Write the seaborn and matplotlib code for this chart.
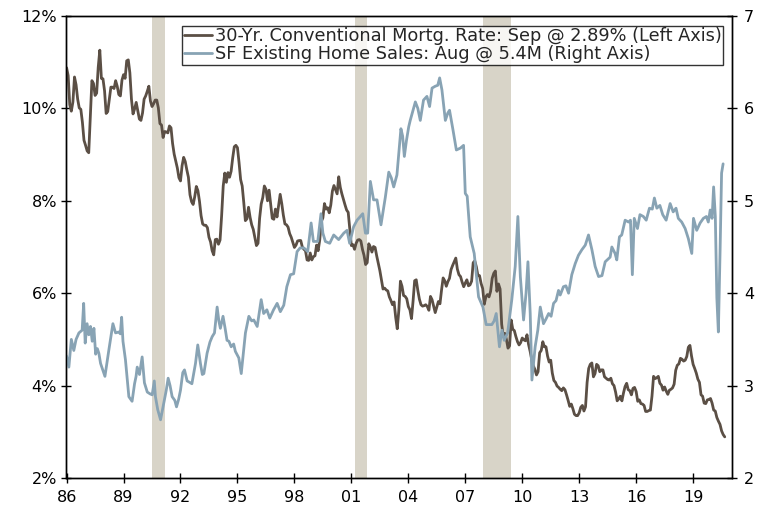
import numpy as np
import pandas as pd
import seaborn as sns
import matplotlib.pyplot as plt

# 30-yr conventional mortgage rate, monthly from Jan 1986 to Sep 2020 (%)
mortgage_rate = [
    10.88, 10.71, 10.08, 9.94, 10.14, 10.68, 10.51, 10.20, 10.01, 9.98, 9.70, 9.31,
    9.20, 9.08, 9.04, 9.83, 10.60, 10.54, 10.28, 10.33, 10.89, 11.26, 10.65, 10.64,
    10.38, 9.89, 9.93, 10.20, 10.46, 10.46, 10.43, 10.60, 10.48, 10.30, 10.27, 10.61,
    10.73, 10.65, 11.03, 11.05, 10.77, 10.20, 9.88, 9.99, 10.13, 9.95, 9.77, 9.74,
    9.90, 10.20, 10.27, 10.37, 10.48, 10.16, 10.04, 10.10, 10.18, 10.18, 10.01, 9.67,
    9.64, 9.37, 9.50, 9.49, 9.47, 9.62, 9.58, 9.24, 9.01, 8.86, 8.71, 8.50,
    8.43, 8.76, 8.94, 8.85, 8.67, 8.51, 8.13, 7.98, 7.92, 8.09, 8.31, 8.22,
    7.99, 7.68, 7.50, 7.47, 7.47, 7.42, 7.21, 7.11, 6.92, 6.83, 7.16, 7.17,
    7.06, 7.15, 7.68, 8.32, 8.60, 8.40, 8.61, 8.51, 8.64, 8.93, 9.17, 9.20,
    9.15, 8.83, 8.46, 8.32, 7.96, 7.57, 7.61, 7.86, 7.64, 7.48, 7.38, 7.20,
    7.03, 7.08, 7.62, 7.93, 8.07, 8.32, 8.25, 8.00, 8.23, 7.92, 7.62, 7.60,
    7.82, 7.65, 7.90, 8.14, 7.94, 7.69, 7.50, 7.48, 7.43, 7.29, 7.21, 7.10,
    6.99, 7.04, 7.13, 7.14, 7.14, 7.00, 6.95, 6.92, 6.72, 6.71, 6.87, 6.72,
    6.79, 6.81, 7.04, 6.92, 7.15, 7.55, 7.63, 7.94, 7.82, 7.85, 7.74, 7.91,
    8.21, 8.33, 8.24, 8.15, 8.52, 8.29, 8.15, 8.03, 7.91, 7.80, 7.75, 7.38,
    7.03, 7.05, 6.95, 7.08, 7.15, 7.16, 7.13, 6.95, 6.82, 6.62, 6.66, 7.07,
    7.00, 6.89, 7.01, 6.99, 6.81, 6.65, 6.49, 6.29, 6.09, 6.11, 6.07, 6.05,
    5.92, 5.84, 5.75, 5.81, 5.48, 5.23, 5.63, 6.26, 6.15, 5.95, 5.93, 5.88,
    5.71, 5.64, 5.45, 5.83, 6.27, 6.29, 6.06, 5.87, 5.75, 5.72, 5.73, 5.75,
    5.71, 5.63, 5.93, 5.86, 5.72, 5.58, 5.70, 5.82, 5.77, 6.07, 6.33, 6.27,
    6.15, 6.25, 6.32, 6.51, 6.60, 6.68, 6.76, 6.52, 6.40, 6.36, 6.24, 6.14,
    6.22, 6.29, 6.16, 6.18, 6.26, 6.66, 6.70, 6.57, 6.38, 6.38, 6.21, 6.10,
    5.76, 5.92, 5.97, 5.92, 6.04, 6.32, 6.43, 6.48, 6.04, 6.20, 6.09, 5.33,
    5.06, 5.13, 5.00, 4.81, 4.86, 5.42, 5.22, 5.19, 5.06, 4.95, 4.88, 4.93,
    5.03, 4.99, 4.97, 5.10, 4.89, 4.74, 4.56, 4.43, 4.35, 4.23, 4.30, 4.71,
    4.76, 4.95, 4.84, 4.84, 4.64, 4.51, 4.55, 4.27, 4.11, 4.07, 3.99, 3.96,
    3.92, 3.89, 3.95, 3.91, 3.80, 3.68, 3.55, 3.60, 3.50, 3.38, 3.35, 3.35,
    3.41, 3.53, 3.57, 3.45, 3.54, 4.07, 4.37, 4.46, 4.49, 4.19, 4.26, 4.46,
    4.43, 4.30, 4.34, 4.34, 4.19, 4.16, 4.13, 4.12, 4.16, 4.04, 4.00, 3.86,
    3.67, 3.71, 3.77, 3.67, 3.84, 3.98, 4.05, 3.91, 3.89, 3.80, 3.94, 3.96,
    3.87, 3.66, 3.69, 3.61, 3.60, 3.57, 3.44, 3.44, 3.46, 3.47, 3.77, 4.20,
    4.15, 4.17, 4.20, 4.05, 4.01, 3.90, 3.97, 3.88, 3.81, 3.90, 3.92, 3.95,
    4.03, 4.33, 4.44, 4.47, 4.59, 4.57, 4.53, 4.55, 4.63, 4.83, 4.87, 4.64,
    4.46, 4.37, 4.27, 4.14, 4.07, 3.80, 3.77, 3.62, 3.61, 3.69, 3.70, 3.72,
    3.62, 3.47, 3.45, 3.31, 3.23, 3.16, 3.02, 2.94, 2.89,
]

# single-family existing home sales (millions, SAAR)
sales_year = [
    1986.00, 1986.12, 1986.25, 1986.38, 1986.50, 1986.65, 1986.82, 1986.90, 1986.98,
    1987.08, 1987.17, 1987.26, 1987.35, 1987.44, 1987.53, 1987.62, 1987.70, 1987.79,
    1987.92, 1988.02, 1988.23, 1988.44, 1988.58, 1988.75, 1988.83, 1988.90, 1988.97,
    1989.10, 1989.28, 1989.45, 1989.58, 1989.66, 1989.72, 1989.84, 1989.98, 1990.10,
    1990.25, 1990.40, 1990.51, 1990.62, 1990.68, 1990.80, 1990.95, 1991.12, 1991.25,
    1991.35, 1991.45, 1991.56, 1991.70, 1991.79, 1991.90, 1992.00, 1992.12, 1992.21,
    1992.35, 1992.44, 1992.60, 1992.79, 1992.91, 1993.05, 1993.15, 1993.23, 1993.40,
    1993.55, 1993.67, 1993.79, 1993.93, 1994.02, 1994.10, 1994.24, 1994.35, 1994.45,
    1994.55, 1994.67, 1994.80, 1994.89, 1995.07, 1995.20, 1995.42, 1995.60, 1995.75,
    1995.86, 1996.04, 1996.25, 1996.38, 1996.55, 1996.70, 1996.90, 1997.09, 1997.26,
    1997.44, 1997.60, 1997.79, 1997.96, 1998.14, 1998.30, 1998.50, 1998.70, 1998.88,
    1999.00, 1999.23, 1999.40, 1999.50, 1999.63, 1999.86, 2000.07, 2000.33, 2000.60,
    2000.77, 2000.91, 2001.12, 2001.30, 2001.47, 2001.60, 2001.74, 2001.86, 2002.00,
    2002.17, 2002.35, 2002.56, 2002.79, 2002.97, 2003.10, 2003.23, 2003.40, 2003.61,
    2003.70, 2003.79, 2003.90, 2004.02, 2004.10, 2004.25, 2004.37, 2004.50, 2004.63,
    2004.80, 2004.98, 2005.12, 2005.25, 2005.42, 2005.55, 2005.65, 2005.77, 2005.95,
    2006.08, 2006.17, 2006.35, 2006.53, 2006.74, 2006.91, 2007.00, 2007.10, 2007.26,
    2007.47, 2007.70, 2007.93, 2008.10, 2008.40, 2008.52, 2008.63, 2008.80, 2008.93,
    2009.05, 2009.23, 2009.45, 2009.63, 2009.77, 2009.90, 2010.07, 2010.20, 2010.30,
    2010.42, 2010.51, 2010.68, 2010.82, 2010.95, 2011.12, 2011.25, 2011.39, 2011.52,
    2011.65, 2011.78, 2011.91, 2012.00, 2012.17, 2012.30, 2012.44, 2012.61, 2012.79,
    2012.96, 2013.14, 2013.32, 2013.49, 2013.67, 2013.84, 2014.02, 2014.20, 2014.37,
    2014.63, 2014.72, 2014.89, 2014.98, 2015.12, 2015.24, 2015.42, 2015.60, 2015.70,
    2015.80, 2015.90, 2016.07, 2016.20, 2016.38, 2016.53, 2016.70, 2016.85, 2016.96,
    2017.09, 2017.25, 2017.40, 2017.58, 2017.79, 2017.95, 2018.10, 2018.22, 2018.40,
    2018.58, 2018.75, 2018.93, 2019.02, 2019.19, 2019.37, 2019.54, 2019.70, 2019.80,
    2019.90, 2020.00, 2020.08, 2020.17, 2020.25, 2020.33, 2020.42, 2020.50, 2020.58,
]
sales_value = [
    3.32, 3.20, 3.50, 3.38, 3.50, 3.57, 3.60, 3.89, 3.46,
    3.67, 3.55, 3.64, 3.48, 3.62, 3.34, 3.40, 3.35, 3.24,
    3.16, 3.10, 3.39, 3.67, 3.57, 3.58, 3.56, 3.74, 3.48,
    3.28, 2.88, 2.83, 3.02, 3.10, 3.20, 3.12, 3.31, 3.03,
    2.93, 2.91, 2.90, 3.05, 2.88, 2.74, 2.63, 2.81, 2.95,
    3.08, 3.00, 2.88, 2.84, 2.77, 2.85, 2.95, 3.14, 3.17,
    3.05, 3.04, 3.02, 3.24, 3.44, 3.24, 3.12, 3.13, 3.35,
    3.47, 3.53, 3.57, 3.85, 3.70, 3.62, 3.75, 3.62, 3.49,
    3.48, 3.42, 3.45, 3.37, 3.30, 3.13, 3.57, 3.75, 3.70,
    3.71, 3.64, 3.93, 3.78, 3.82, 3.73, 3.82, 3.89, 3.80,
    3.87, 4.07, 4.20, 4.21, 4.45, 4.49, 4.49, 4.45, 4.76,
    4.56, 4.56, 4.86, 4.65, 4.56, 4.54, 4.63, 4.58, 4.65,
    4.68, 4.54, 4.72, 4.79, 4.83, 4.86, 4.65, 4.65, 5.21,
    5.01, 5.01, 4.74, 5.04, 5.31, 5.25, 5.15, 5.28, 5.78,
    5.70, 5.48, 5.65, 5.80, 5.87, 5.98, 6.07, 6.00, 5.87,
    6.09, 6.13, 6.02, 6.22, 6.24, 6.25, 6.33, 6.20, 5.87,
    5.95, 5.98, 5.77, 5.55, 5.57, 5.60, 5.08, 5.05, 4.61,
    4.43, 3.96, 3.85, 3.66, 3.66, 3.70, 3.78, 3.42, 3.60,
    3.49, 3.57, 3.93, 4.29, 4.83, 4.18, 3.71, 4.00, 4.34,
    3.78, 3.06, 3.42, 3.60, 3.85, 3.67, 3.72, 3.78, 3.75,
    3.89, 3.92, 4.03, 3.98, 4.07, 4.08, 4.00, 4.20, 4.32,
    4.41, 4.47, 4.52, 4.63, 4.47, 4.29, 4.18, 4.19, 4.34,
    4.39, 4.50, 4.43, 4.36, 4.61, 4.63, 4.79, 4.77, 4.79,
    4.20, 4.81, 4.70, 4.85, 4.83, 4.79, 4.92, 4.91, 5.03,
    4.92, 4.95, 4.85, 4.79, 4.97, 4.88, 4.92, 4.81, 4.77,
    4.70, 4.59, 4.43, 4.81, 4.68, 4.76, 4.81, 4.83, 4.77,
    4.90, 4.81, 5.15, 4.83, 3.95, 3.58, 4.45, 5.30, 5.40,
]

# recessions (start, end) in decimal years
recessions = [(1990.50, 1991.17), (2001.17, 2001.84), (2007.92, 2009.42)]

x_ticks = [1986, 1989, 1992, 1995, 1998, 2001, 2004, 2007, 2010, 2013, 2016, 2019]
x_labels = ['86', '89', '92', '95', '98', '01', '04', '07', '10', '13', '16', '19']

mort = pd.DataFrame({'year': 1986 + np.arange(len(mortgage_rate)) / 12, 'rate': mortgage_rate})
sales = pd.DataFrame({'year': sales_year, 'sales': sales_value})

sns.set_theme(style='white')
plt.rcParams['font.family'] = ['DejaVu Sans']

fig = plt.figure(figsize=(7.73, 5.11), dpi=100)
ax = fig.add_axes([0.0854, 0.0646, 0.8616, 0.9041])
ax2 = ax.twinx()

for s, e in recessions:
    ax.axvspan(s, e, color='#d8d4c8', lw=0, zorder=0)

sns.lineplot(data=mort, x='year', y='rate', ax=ax, color='#5b4f45', lw=2.0,
             label='30-Yr. Conventional Mortg. Rate: Sep @ 2.89% (Left Axis)', legend=False)
sns.lineplot(data=sales, x='year', y='sales', ax=ax2, color='#88a3b4', lw=2.0,
             label='SF Existing Home Sales: Aug @ 5.4M (Right Axis)', legend=False)

ax.set_xlim(1985.97, 2021.05)
ax.set_ylim(2, 12)
ax2.set_ylim(2, 7)
ax.set_xticks(x_ticks)
ax.set_xticklabels(x_labels)
ax.set_yticks([2, 4, 6, 8, 10, 12])
ax.set_yticklabels(['2%', '4%', '6%', '8%', '10%', '12%'])
ax2.set_yticks([2, 3, 4, 5, 6, 7])
ax.set_xlabel('')
ax.set_ylabel('')
ax2.set_ylabel('')

for a in (ax, ax2):
    for sp in a.spines.values():
        sp.set_color('black')
        sp.set_linewidth(1.0)
    a.tick_params(direction='inout', length=7, width=1, color='black',
                  labelsize=11.5, labelcolor='black')
ax.tick_params(axis='x', pad=5)
ax.tick_params(axis='y', pad=3)
ax2.tick_params(axis='y', pad=5)
ax.tick_params(left=True, bottom=True)
ax2.tick_params(right=True)

h1, l1 = ax.get_legend_handles_labels()
h2, l2 = ax2.get_legend_handles_labels()
leg = ax2.legend(h1 + h2, l1 + l2, loc='upper right', bbox_to_anchor=(0.987, 0.979),
                 borderaxespad=0, fontsize=12.8, frameon=True, fancybox=False,
                 edgecolor='black', borderpad=0.1, labelspacing=0.0,
                 handlelength=1.6, handletextpad=0.15)
leg.get_frame().set_linewidth(1.0)

fig.savefig('out.png', dpi=100)
